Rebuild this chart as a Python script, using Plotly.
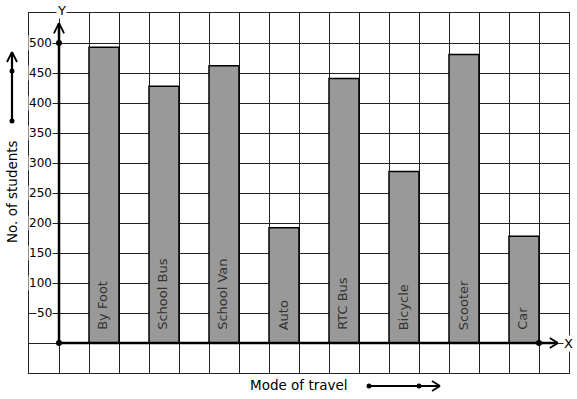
import plotly.graph_objects as go

# ---- data ----
modes = ["By Foot", "School Bus", "School Van", "Auto", "RTC Bus", "Bicycle", "Scooter", "Car"]
students = [493, 428, 462, 192, 441, 286, 481, 178]
bar_pos = [1.5, 3.5, 5.5, 7.5, 9.5, 11.5, 13.5, 15.5]
tick_vals = [50, 100, 150, 200, 250, 300, 350, 400, 450, 500]
tick_text = ["50", "100", "150", "200", "250", "300", "350", "400", "450", "500"]

FONT = "DejaVu Sans"
W, H = 577, 399
ML, MR, MT, MB = 29, 8, 13, 26
PW, PH = W - ML - MR, H - MT - MB
XR = [-1, 17]
YR = [-50, 550]

def px_x(px):  # pixel -> paper
    return (px - ML) / PW

def px_y(py):
    return (H - MB - py) / PH

fig = go.Figure()
fig.add_trace(go.Bar(
    x=bar_pos, y=students, width=1,
    marker=dict(color="#999999", line=dict(color="#000000", width=1.5)),
    hoverinfo="skip", showlegend=False,
))

# dots on axes
fig.add_trace(go.Scatter(
    x=[0, 0, 16], y=[0, 500, 0], mode="markers",
    marker=dict(color="black", size=6), showlegend=False, hoverinfo="skip",
))

shapes = []
ax_w = 2.5
# x axis arrow
x_tip = 16.63
shapes.append(dict(type="line", xref="x", yref="y", x0=0, y0=0, x1=x_tip, y1=0,
                   line=dict(color="black", width=ax_w), layer="above"))
for s in (1, -1):
    shapes.append(dict(type="line", xref="x", yref="y", x0=x_tip, y0=0, x1=x_tip - 0.27, y1=s * 8.3,
                       line=dict(color="black", width=1.8), layer="above"))
# y axis arrow
y_tip = 533
shapes.append(dict(type="line", xref="x", yref="y", x0=0, y0=0, x1=0, y1=y_tip,
                   line=dict(color="black", width=ax_w), layer="above"))
for s in (1, -1):
    shapes.append(dict(type="line", xref="x", yref="y", x0=0, y0=y_tip, x1=s * 0.17, y1=y_tip - 17,
                       line=dict(color="black", width=1.8), layer="above"))

# left side arrow (paper)
lx = px_x(12)
shapes.append(dict(type="line", xref="paper", yref="paper", x0=lx, y0=px_y(121), x1=lx, y1=px_y(52),
                   line=dict(color="black", width=2.2)))
for dx in (-5, 5):
    shapes.append(dict(type="line", xref="paper", yref="paper", x0=lx, y0=px_y(52),
                       x1=px_x(12 + dx), y1=px_y(62), line=dict(color="black", width=1.8)))
for py in (71, 121):
    shapes.append(dict(type="circle", xref="paper", yref="paper",
                       x0=px_x(9.5), x1=px_x(14.5), y0=px_y(py - 2.5), y1=px_y(py + 2.5),
                       fillcolor="black", line=dict(color="black", width=0)))
# bottom arrow (paper)
by = px_y(386)
shapes.append(dict(type="line", xref="paper", yref="paper", x0=px_x(369), y0=by, x1=px_x(440), y1=by,
                   line=dict(color="black", width=2.2)))
for dy in (-5, 5):
    shapes.append(dict(type="line", xref="paper", yref="paper", x0=px_x(440), y0=by,
                       x1=px_x(432), y1=px_y(386 + dy), line=dict(color="black", width=1.8)))
for pxv in (369, 419):
    shapes.append(dict(type="circle", xref="paper", yref="paper",
                       x0=px_x(pxv - 2.5), x1=px_x(pxv + 2.5), y0=px_y(388.5), y1=px_y(383.5),
                       fillcolor="black", line=dict(color="black", width=0)))

annotations = []
for v, t in zip(tick_vals, tick_text):
    annotations.append(dict(x=-0.2, y=v, xref="x", yref="y", text=t, showarrow=False,
                            xanchor="right", yanchor="middle", bgcolor="white", borderpad=0,
                            font=dict(family=FONT, size=12, color="black")))
for xp, m in zip(bar_pos, modes):
    annotations.append(dict(x=xp - 0.03, y=18, xref="x", yref="y", text=m, showarrow=False,
                            textangle=-90, xanchor="center", yanchor="bottom",
                            font=dict(family=FONT, size=13, color="#333333")))
annotations.append(dict(x=px_x(61), y=px_y(10), xref="paper", yref="paper", text="Y", showarrow=False,
                        xanchor="center", yanchor="middle",
                        bgcolor="white", borderpad=0, font=dict(family=FONT, size=13, color="black")))
annotations.append(dict(x=px_x(568), y=px_y(343), xref="paper", yref="paper", text="X", showarrow=False,
                        xanchor="center", yanchor="middle",
                        bgcolor="white", borderpad=0, font=dict(family=FONT, size=13, color="black")))
annotations.append(dict(x=px_x(12), y=px_y(192), xref="paper", yref="paper", text="No. of students",
                        xanchor="center", yanchor="middle",
                        showarrow=False, textangle=-90, font=dict(family=FONT, size=13.5, color="black")))
annotations.append(dict(x=px_x(298.5), y=px_y(385), xref="paper", yref="paper", text="Mode of travel",
                        xanchor="center", yanchor="middle",
                        showarrow=False, font=dict(family=FONT, size=13.5, color="black")))

fig.update_layout(
    width=W, height=H,
    margin=dict(l=ML, r=MR, t=MT, b=MB, pad=0),
    paper_bgcolor="white", plot_bgcolor="white",
    xaxis=dict(range=XR, dtick=1, tick0=0, showgrid=True, gridcolor="#222222", gridwidth=1,
               zeroline=False, showticklabels=False, ticks="", showline=True, mirror=True,
               linecolor="#222222", linewidth=1, fixedrange=True),
    yaxis=dict(range=YR, dtick=50, tick0=0, showgrid=True, gridcolor="#222222", gridwidth=1,
               zeroline=False, showticklabels=False, ticks="", showline=True, mirror=True,
               linecolor="#222222", linewidth=1, fixedrange=True),
    shapes=shapes, annotations=annotations, showlegend=False,
)

fig.write_html("out.html", config={"displayModeBar": False})
